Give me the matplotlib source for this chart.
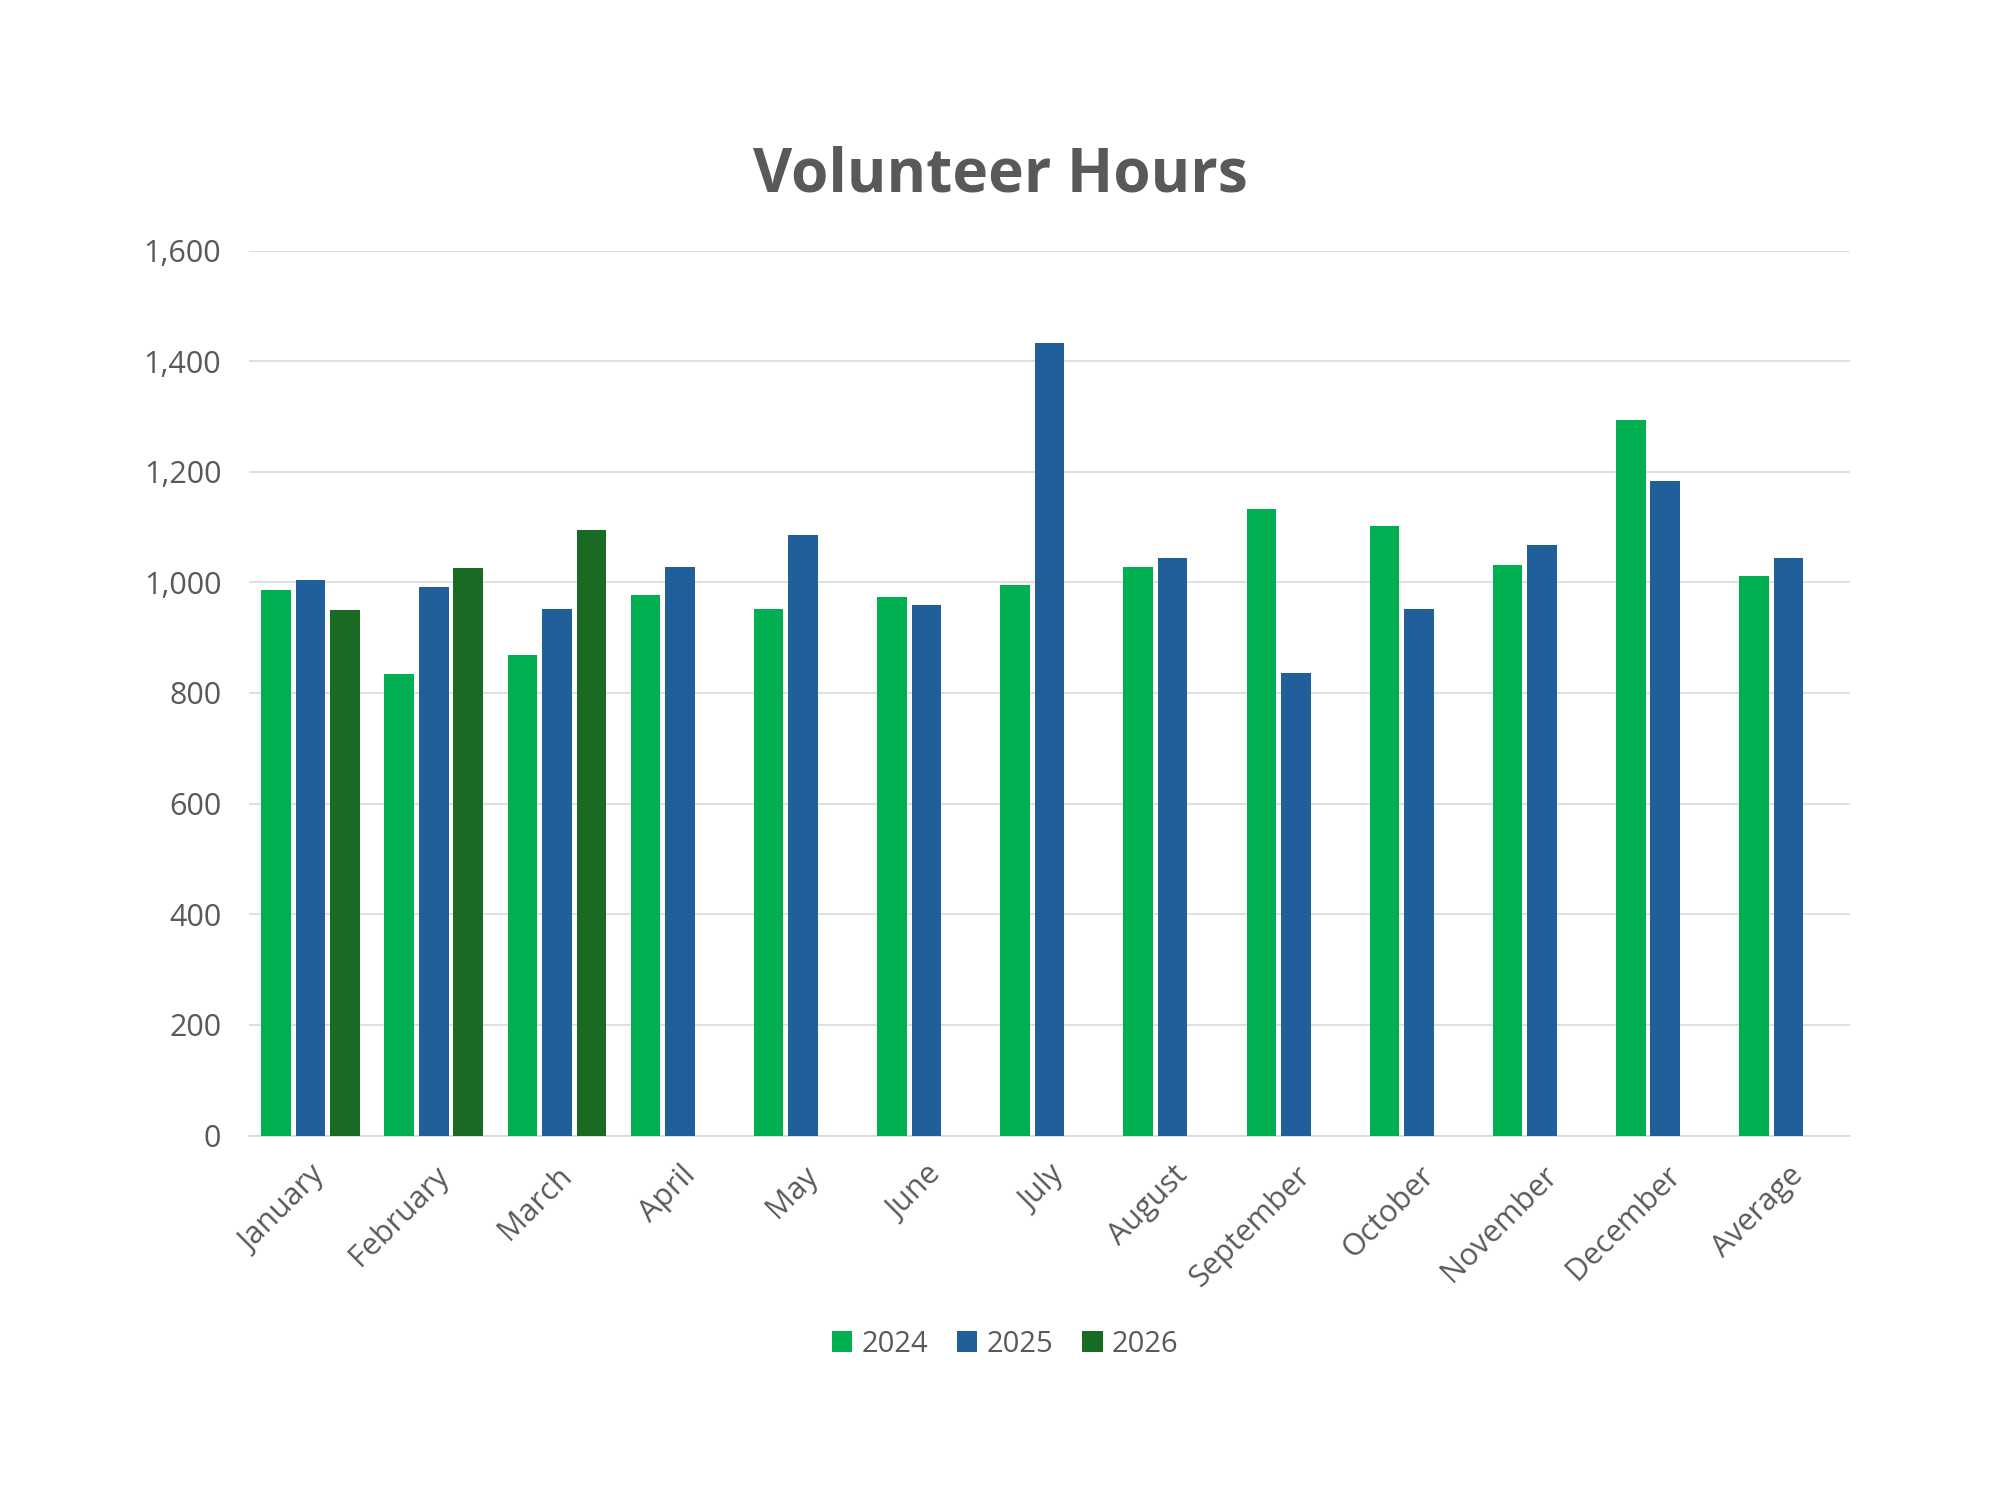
import numpy as np
import matplotlib
matplotlib.use("Agg")
import matplotlib.pyplot as plt
from matplotlib.ticker import FuncFormatter

plt.rcParams['font.family'] = ['Open Sans', 'DejaVu Sans']

# data
months = ["January", "February", "March", "April", "May", "June", "July",
          "August", "September", "October", "November", "December", "Average"]
hours_2024 = [987, 835, 869, 977, 952, 973, 996, 1028, 1132, 1102, 1031, 1293, 1012]
hours_2025 = [1005, 991, 952, 1028, 1086, 959, 1432, 1044, 837, 952, 1067, 1183, 1044]
hours_2026 = [950, 1026, 1095, np.nan, np.nan, np.nan, np.nan,
              np.nan, np.nan, np.nan, np.nan, np.nan, np.nan]

series = [("2024", hours_2024, "#00B050"),
          ("2025", hours_2025, "#215F9A"),
          ("2026", hours_2026, "#196B24")]

grey = "#595959"

fig = plt.figure(figsize=(20, 15), dpi=100)
ax = fig.add_axes([0.1245, 0.243, 0.8005, 0.590])

x = np.arange(len(months))
step = 0.28
width = 0.24
for i, (label, vals, color) in enumerate(series):
    ax.bar(x + (i - 1) * step, vals, width=width, color=color, label=label, zorder=3)

ax.set_xlim(-0.5, len(months) - 0.5)
ax.set_ylim(0, 1600)
ax.set_yticks(np.arange(0, 1601, 200))
ax.yaxis.set_major_formatter(FuncFormatter(lambda v, p: f"{int(v):,}"))
ax.grid(axis='y', color="#D9D9D9", linewidth=1.2, zorder=0)

for s in ['top', 'right', 'left']:
    ax.spines[s].set_visible(False)
ax.spines['bottom'].set_color("#D9D9D9")
ax.spines['bottom'].set_linewidth(1.2)

ax.set_xticks(x)
ax.set_xticklabels(months, rotation=45, ha='right', rotation_mode='anchor')
ax.tick_params(axis='both', length=0, colors=grey)
ax.tick_params(axis='x', labelsize=22, pad=18)
ax.tick_params(axis='y', labelsize=22, pad=20)

fig.text(0.5, 0.883, "Volunteer Hours", ha='center', va='center',
         fontsize=43.5, fontweight='bold', color=grey)

leg = fig.legend(loc='center', bbox_to_anchor=(0.5025, 0.104), ncol=3, frameon=False,
                 fontsize=21, handlelength=0.7, handleheight=0.7,
                 handletextpad=0.3, columnspacing=1.0)
for t in leg.get_texts():
    t.set_color(grey)

fig.savefig("out.png", dpi=100, facecolor="white")
